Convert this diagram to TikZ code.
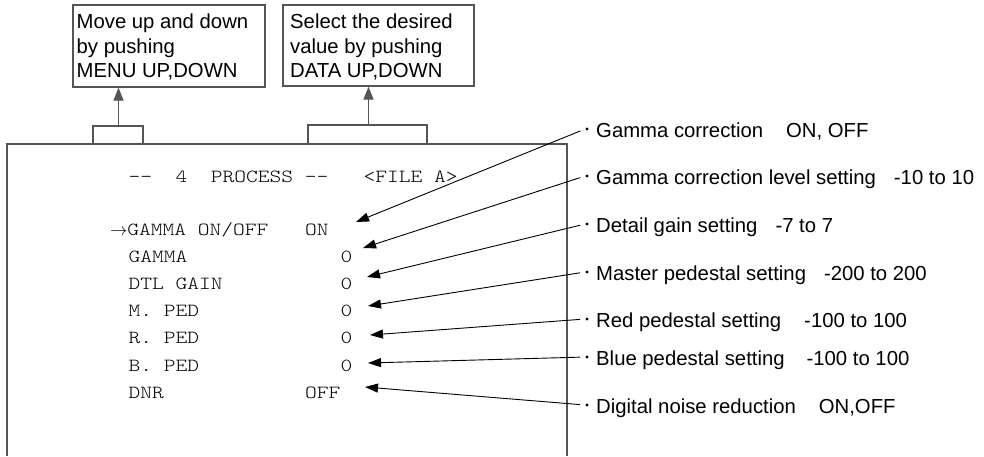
\documentclass[tikz,border=0pt]{standalone}
\usepackage{fontspec}
\setmainfont{Liberation Sans}
\newfontfamily\crt{lmmonolt10-regular.otf}[FakeStretch=1.21]
\usetikzlibrary{arrows.meta}
\definecolor{framegray}{RGB}{85,85,85}
\begin{document}
\begin{tikzpicture}[x=1pt,y=-1pt,
  frame/.style={draw=framegray, line width=1.3pt},
  boxst/.style={draw=framegray, line width=1.2pt, rectangle, inner sep=0pt},
  btext/.style={anchor=base west, inner sep=0pt, font=\fontsize{20.3}{24}\selectfont},
  mono/.style={anchor=base west, inner sep=0pt, font=\crt\fontsize{18.5}{22}\selectfont},
  dotn/.style={circle, fill=black, inner sep=0pt, minimum size=3.4pt},
  conn/.style={draw=black, line width=0.9pt, -{Triangle[length=13pt,width=9pt]}},
  upar/.style={draw=framegray, line width=1.2pt, -{Triangle[length=13pt,width=10pt]}}
]
\useasboundingbox (0,0) rectangle (984,456);

% top boxes
\node[boxst, minimum width=192pt, minimum height=82pt] (box1) at (169,46) {};
\node[boxst, minimum width=191pt, minimum height=81pt] (box2) at (378.5,45.5) {};
\node[btext] (m1) at (76.5,28.3) {Move up and down};
\node[btext] (m2) at (76.5,53) {by pushing};
\node[btext] (m3) at (76.5,77.5) {MENU UP,DOWN};
\node[btext] (s1) at (290,28.3) {Select the desired};
\node[btext] (s2) at (290,53) {value by pushing};
\node[btext] (s3) at (290,77.5) {DATA UP,DOWN};

% screen frame and tabs
\draw[frame] (7,456) -- (7,144) -- (567,144) -- (567,456);
\draw[frame] (93,144) -- (93,126) -- (143,126) -- (143,144);
\draw[frame] (308,144) -- (308,125) -- (427,125) -- (427,144);
\coordinate (tab1) at (118.5,126);
\coordinate (tab2) at (368.5,125);
\draw[upar] (tab1) -- (tab1 |- box1.south);
\draw[upar] (tab2) -- (tab2 |- box2.south);

% screen text
\node[mono] (title) at (128.5,182) {-{}-~~4~~PROCESS~-{}-~~~<FILE~A>};
\node[mono] (r0) at (110,235) {$\rightarrow$GAMMA~ON/OFF};
\node[mono] (r1) at (128.5,262.2) {GAMMA};
\node[mono] (r2) at (128.5,289.4) {DTL~GAIN};
\node[mono] (r3) at (128.5,316.6) {M.~PED};
\node[mono] (r4) at (128.5,343.8) {R.~PED};
\node[mono] (r5) at (128.5,371) {B.~PED};
\node[mono] (r6) at (128.5,398.2) {DNR};
\node[mono] (v0) at (305,235) {ON};
\node[mono] (v1) at (340.5,262.2) {0};
\node[mono] (v2) at (340.5,289.4) {0};
\node[mono] (v3) at (340.5,316.6) {0};
\node[mono] (v4) at (340.5,343.8) {0};
\node[mono] (v5) at (340.5,371) {0};
\node[mono] (v6) at (305,398.2) {OFF};

% right-hand explanations
\node[dotn] (b1) at (587,129) {};
\node[dotn] (b2) at (587,176) {};
\node[dotn] (b3) at (587,224) {};
\node[dotn] (b4) at (587,272) {};
\node[dotn] (b5) at (587,319) {};
\node[dotn] (b6) at (587,357) {};
\node[dotn] (b7) at (587,405) {};
\node[btext] (e1) at (596,137) {Gamma correction\hspace{23pt}ON, OFF};
\node[btext] (e2) at (596,184) {Gamma correction level setting\hspace{18pt}-10 to 10};
\node[btext] (e3) at (596,232) {Detail gain setting\hspace{18pt}-7 to 7};
\node[btext] (e4) at (596,280) {Master pedestal setting\hspace{18pt}-200 to 200};
\node[btext] (e5) at (596,327) {Red pedestal setting\hspace{23pt}-100 to 100};
\node[btext] (e6) at (596,365) {Blue pedestal setting\hspace{22pt}-100 to 100};
\node[btext] (e7) at (596,413) {Digital noise reduction\hspace{23pt}ON,OFF};

% arrow targets near the values
\coordinate (t1) at (356,222);
\coordinate (t2) at (363,248);
\coordinate (t3) at (367,277);
\coordinate (t4) at (368,306);
\coordinate (t5) at (370,335);
\coordinate (t6) at (368,363);
\coordinate (t7) at (365,387);
\foreach \i in {1,...,7}{
  \draw[conn, shorten <=5pt] (b\i.west) -- (t\i);
}
\end{tikzpicture}
\end{document}
